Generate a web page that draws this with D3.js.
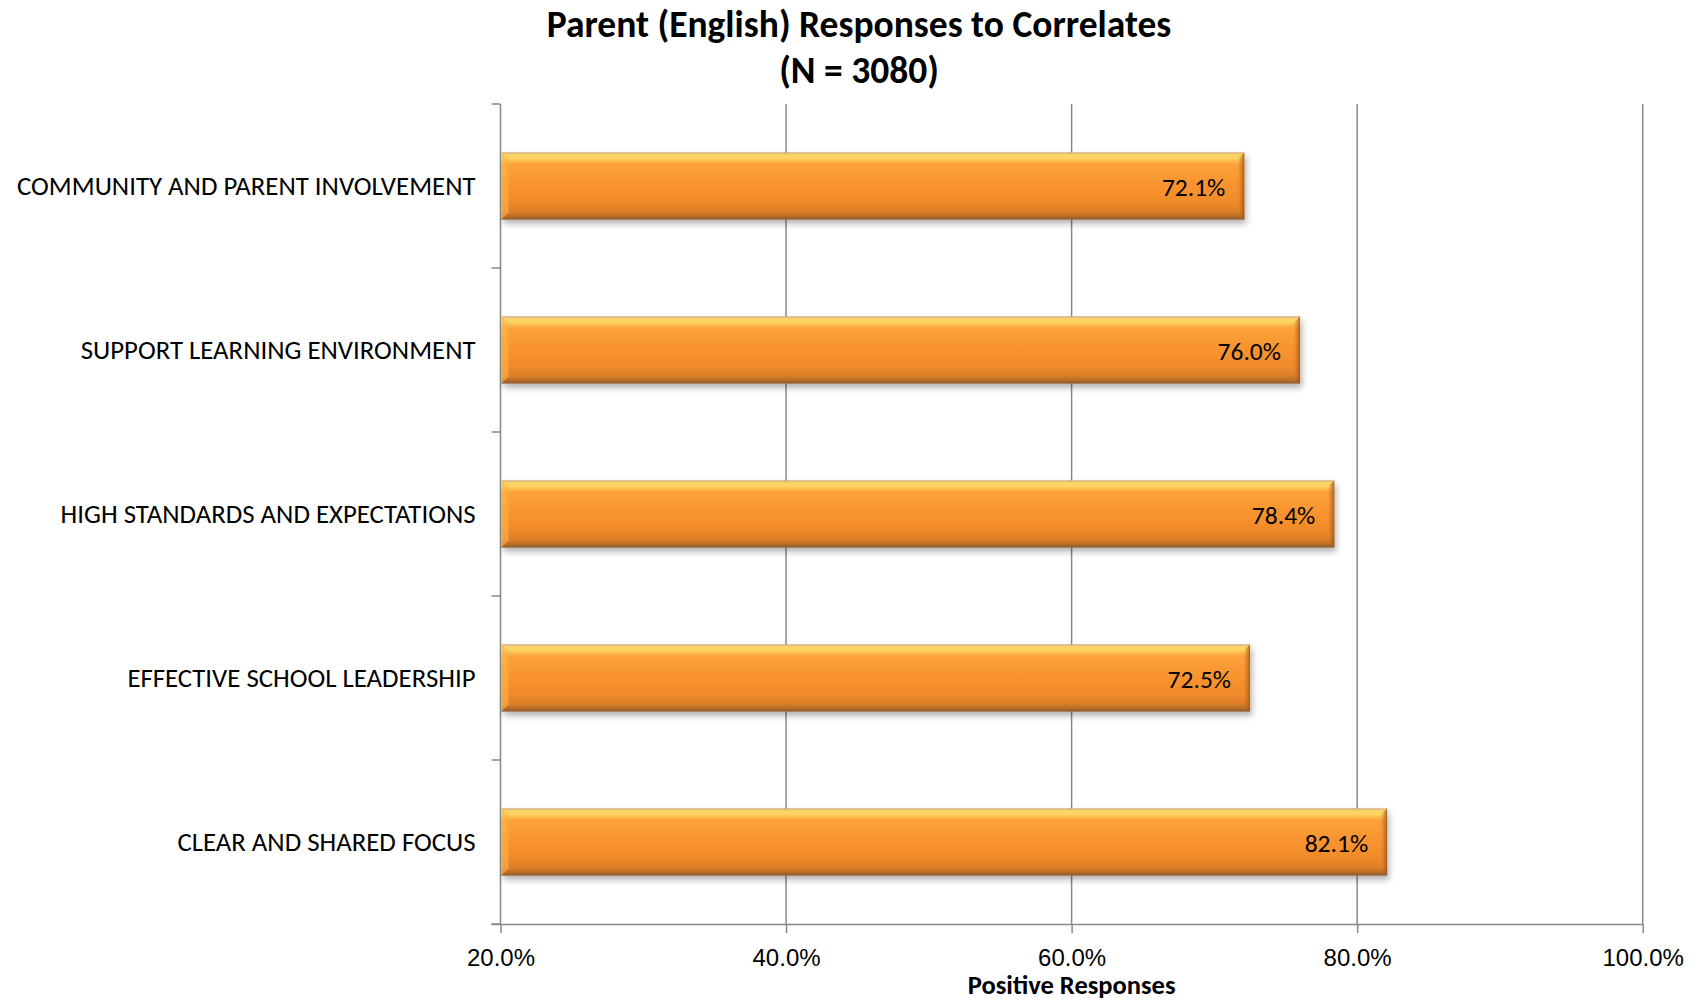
<!DOCTYPE html>
<html>
<head>
<meta charset="utf-8">
<script src="https://cdn.jsdelivr.net/npm/d3@7"></script>
<style>
  html, body { margin: 0; padding: 0; background: #fff; }
  svg { display: block; font-family: Carlito, Lato, "Open Sans", sans-serif; }
</style>
</head>
<body>
<svg id="chart" width="1701" height="1001"></svg>
<script>
// Correlate categories, top to bottom
const categories = [
  "COMMUNITY AND PARENT INVOLVEMENT",
  "SUPPORT LEARNING ENVIRONMENT",
  "HIGH STANDARDS AND EXPECTATIONS",
  "EFFECTIVE SCHOOL LEADERSHIP",
  "CLEAR AND SHARED FOCUS"
];
// Share of positive responses (%)
const values = [72.1, 76.0, 78.4, 72.5, 82.1];
// X axis ticks (%)
const xTicks = [20, 40, 60, 80, 100];

const titleLines = ["Parent (English) Responses to Correlates", "(N = 3080)"];
const xTitle = "Positive Responses";

const svg = d3.select("#chart");
const plotLeft = 500.5, plotRight = 1642.7, plotTop = 104, plotBottom = 924;

const x = d3.scaleLinear().domain([20, 100]).range([plotLeft, plotRight]);
const y = d3.scaleBand().domain(categories).range([plotTop, plotBottom])
  .paddingInner(0.59).paddingOuter(0.295);

const gridColor = "#888888";

// Gradients and shadow for the bevelled bars
const defs = svg.append("defs");
const vg = defs.append("linearGradient").attr("id", "barFill")
  .attr("x1", 0).attr("y1", 0).attr("x2", 0).attr("y2", 1);
[["0%", "#c9a27a"], ["3%", "#fbd36a"], ["9%", "#fdd460"], ["17%", "#fca23a"],
 ["45%", "#f9952f"], ["75%", "#f08a2a"], ["88%", "#de7e28"], ["95%", "#b86c28"], ["100%", "#8a5a32"]]
  .forEach(([o, c]) => vg.append("stop").attr("offset", o).attr("stop-color", c));
const eg = defs.append("linearGradient").attr("id", "endFill")
  .attr("x1", 0).attr("y1", 0).attr("x2", 1).attr("y2", 0);
[["0%", "#e07f27", 0], ["100%", "#8e521c", 0.85]]
  .forEach(([o, c, a]) => eg.append("stop").attr("offset", o).attr("stop-color", c).attr("stop-opacity", a));
const sh = defs.append("filter").attr("id", "shadow")
  .attr("x", "-5%").attr("y", "-30%").attr("width", "110%").attr("height", "170%");
sh.append("feDropShadow").attr("dx", 2).attr("dy", 4).attr("stdDeviation", 3)
  .attr("flood-color", "#000").attr("flood-opacity", 0.3);

// Vertical gridlines
svg.append("g").selectAll("line").data(xTicks.slice(1)).join("line")
  .attr("x1", d => x(d)).attr("x2", d => x(d))
  .attr("y1", plotTop).attr("y2", plotBottom)
  .attr("stroke", gridColor).attr("stroke-width", 1.5);

// Bottom axis
const xAxis = svg.append("g").attr("transform", `translate(0,${plotBottom})`)
  .call(d3.axisBottom(x).tickValues(xTicks).tickSize(9).tickPadding(16)
    .tickFormat(d => d.toFixed(1) + "%"));
xAxis.select(".domain").attr("stroke", gridColor).attr("stroke-width", 1.5)
  .attr("d", `M${plotLeft - 9},0.5H${plotRight}`);
xAxis.selectAll(".tick line").attr("stroke", gridColor).attr("stroke-width", 1.5);
xAxis.selectAll(".tick text").attr("fill", "#000").style("font-size", "24px");

// Left axis with ticks between categories
const yAxisG = svg.append("g");
yAxisG.append("line").attr("x1", plotLeft).attr("x2", plotLeft).attr("y1", plotTop).attr("y2", plotBottom)
  .attr("stroke", gridColor).attr("stroke-width", 1.5);
const step = y.step();
const boundaries = d3.range(categories.length + 1).map(i => plotTop + i * step);
yAxisG.selectAll("line.tk").data(boundaries).join("line").attr("class", "tk")
  .attr("x1", plotLeft - 9).attr("x2", plotLeft).attr("y1", d => d).attr("y2", d => d)
  .attr("stroke", gridColor).attr("stroke-width", 1.5);
yAxisG.selectAll("text").data(categories).join("text")
  .attr("x", plotLeft - 25).attr("y", d => y(d) + y.bandwidth() / 2 - 1)
  .attr("text-anchor", "end").attr("dominant-baseline", "central")
  .style("font-size", "26.8px").attr("fill", "#000").text(d => d);

// Bars
const bars = svg.append("g").selectAll("g").data(categories).join("g");
bars.append("rect")
  .attr("x", plotLeft + 1).attr("y", d => y(d))
  .attr("width", (d, i) => x(values[i]) - plotLeft - 1).attr("height", y.bandwidth())
  .attr("fill", "url(#barFill)").attr("filter", "url(#shadow)");
// Bevel at the bar end
bars.append("path")
  .attr("d", (d, i) => {
    const xe = x(values[i]), y0 = y(d), h = y.bandwidth(), b = 7;
    return `M${xe - b},${y0 + b}L${xe},${y0}V${y0 + h}L${xe - b},${y0 + h - b}Z`;
  })
  .attr("fill", "url(#endFill)");
// Highlight at the bar start
bars.append("path")
  .attr("d", d => {
    const y0 = y(d), h = y.bandwidth(), b = 7;
    return `M${plotLeft + 1},${y0}L${plotLeft + 1 + b},${y0 + b}V${y0 + h - b}L${plotLeft + 1},${y0 + h}Z`;
  })
  .attr("fill", "#fcb54c").attr("opacity", 0.6);

// Value labels inside the bar ends
bars.append("text")
  .attr("x", (d, i) => x(values[i]) - 19).attr("y", d => y(d) + y.bandwidth() / 2 + 1)
  .attr("text-anchor", "end").attr("dominant-baseline", "central")
  .style("font-size", "25.5px").attr("fill", "#000")
  .text((d, i) => values[i].toFixed(1) + "%");

// Titles
svg.append("g").selectAll("text").data(titleLines).join("text")
  .attr("x", 859).attr("y", (d, i) => 24 + i * 46)
  .attr("text-anchor", "middle").attr("dominant-baseline", "central")
  .style("font-size", "37.5px").style("font-weight", "bold").attr("fill", "#000")
  .text(d => d);

svg.append("text").attr("x", (plotLeft + plotRight) / 2).attr("y", 985)
  .attr("text-anchor", "middle").attr("dominant-baseline", "central")
  .style("font-size", "26.5px").style("font-weight", "bold").attr("fill", "#000")
  .text(xTitle);
</script>
</body>
</html>
